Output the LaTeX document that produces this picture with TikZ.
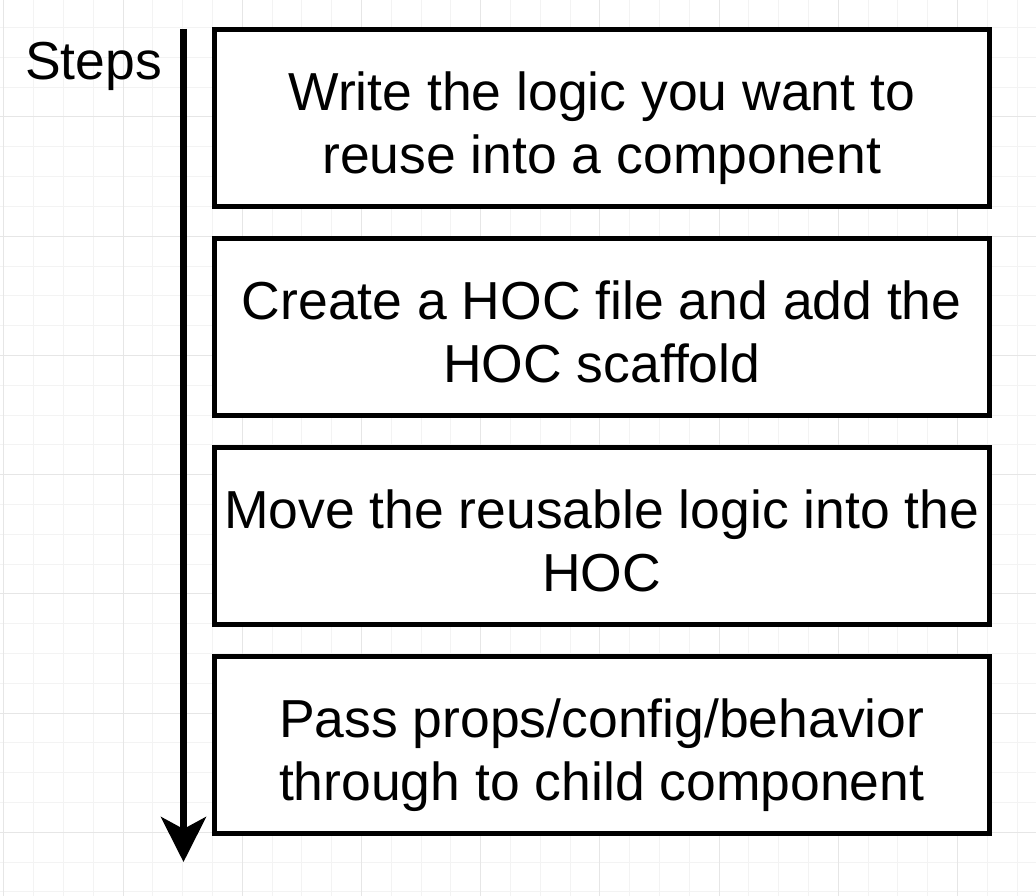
\documentclass[tikz,border=0pt]{standalone}
\usepackage{fontspec}
\setmainfont{Liberation Sans}
\usetikzlibrary{arrows.meta}
\definecolor{gridminor}{HTML}{F3F3F3}
\definecolor{gridmajor}{HTML}{E6E6E6}
% two centred lines, each with a strut so that every box sets its
% baselines at the same offset whatever letters the lines contain
\newcommand{\steplines}[2]{\strut #1\\\strut #2}
\begin{document}
\begin{tikzpicture}[x=1pt,y=-1pt,
  stepbox/.style={draw=black, line width=5pt, fill=white,
    minimum width=774.5pt, minimum height=177pt, inner sep=0pt},
  steptext/.style={inner sep=0pt, align=center, yshift=-11pt,
    font=\fontsize{53.5}{63}\selectfont},
  label/.style={inner sep=0pt, anchor=base, font=\fontsize{53.5}{63}\selectfont},
  flow/.style={line width=6.5pt, -{Stealth[width=45pt,length=45pt,inset=12pt]}}]
  % canvas
  \useasboundingbox (0,0) rectangle (1036,896);
  \fill[white] (0,0) rectangle (1036,896);
  % background grid: minor lines, then every fourth line a little darker
  \foreach \i in {0,...,34} {
    \draw[gridminor, line width=1pt] ({3.8+29.8*\i},0) -- ({3.8+29.8*\i},896);
  }
  \foreach \i in {-1,...,29} {
    \draw[gridminor, line width=1pt] (0,{27.6+29.8*\i}) -- (1036,{27.6+29.8*\i});
  }
  \foreach \i in {0,...,8} {
    \draw[gridmajor, line width=1pt] ({3.8+119.2*\i},0) -- ({3.8+119.2*\i},896);
  }
  \foreach \i in {0,...,7} {
    \draw[gridmajor, line width=1pt] (0,{-2.2+119.2*\i}) -- (1036,{-2.2+119.2*\i});
  }
  % steps
  \node[stepbox] (s1) at (601.75,118) {};
  \node[stepbox] (s2) at (601.75,327) {};
  \node[stepbox] (s3) at (601.75,536) {};
  \node[stepbox] (s4) at (601.75,745) {};
  \node[steptext] (t1) at (s1.center) {\steplines{Write the logic you want to}{reuse into a component}};
  \node[steptext] (t2) at (s2.center) {\steplines{Create a HOC file and add the}{HOC scaffold}};
  \node[steptext] (t3) at (s3.center) {\steplines{Move the reusable logic into the}{HOC}};
  \node[steptext] (t4) at (s4.center) {\steplines{Pass props/config/behavior}{through to child component}};
  % timeline arrow
  \coordinate (top) at (183.5,29);
  \coordinate (tip) at (183.5,862);
  \draw[flow] (top) -- (tip);
  \node[label] (steps) at (93.5,80) {Steps};
\end{tikzpicture}
\end{document}
